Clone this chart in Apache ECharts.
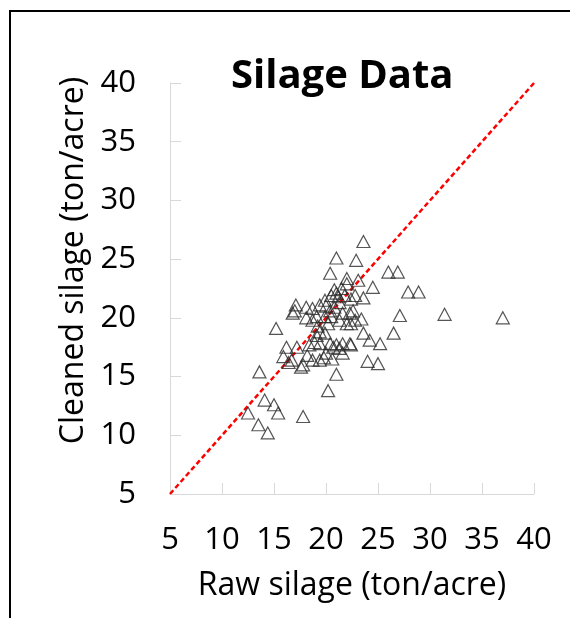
<!DOCTYPE html>
<html>
<head>
<meta charset="utf-8">
<script src="https://cdn.jsdelivr.net/npm/echarts@6/dist/echarts.min.js"></script>
<style>
  html, body { margin: 0; padding: 0; background: #fff; }
  #wrap { position: relative; width: 570px; height: 618px; overflow: hidden; }
  #frame { position: absolute; left: 9px; top: 10px; width: 700px; height: 800px; border: 2px solid #000; box-sizing: border-box; }
  #chart { position: absolute; left: 0; top: 0; width: 570px; height: 618px; }
</style>
</head>
<body>
<div id="wrap">
  <div id="frame"></div>
  <div id="chart"></div>
</div>
<script>
// raw vs cleaned silage yield, ton/acre
const rawSilage = [
  37.0, 31.4, 27.1, 28.9, 27.9, 26.9, 26.0, 24.5, 26.5, 25.2,
  25.0, 24.0, 23.6, 23.6, 22.9, 21.0, 20.4, 21.0, 20.2, 17.8,
  15.2, 13.6, 14.1, 15.0, 15.4, 12.5, 13.5, 14.4,
  17.1, 16.8, 17.0, 18.1, 16.2, 17.2, 15.9, 16.7, 16.4, 17.6, 17.8,
  18.7, 19.4, 19.9, 20.5, 21.2, 21.8, 22.8, 21.5, 22.0, 22.0,
  23.1, 21.0, 20.8, 22.4, 22.6, 22.0, 18.1, 18.7, 19.1, 19.9,
  20.5, 20.2, 20.4, 21.3, 22.3, 22.8, 23.4, 22.4, 19.1, 19.4,
  19.9, 18.9, 18.4, 19.4, 20.4, 21.0, 21.6, 22.3, 20.0, 20.7,
  21.3, 21.6, 22.4, 18.7, 19.4, 18.2, 19.8, 20.6, 19.2, 20.0,
  21.3, 20.8, 21.6, 23.6, 24.2
];
const cleanedSilage = [
  20.0, 20.3, 20.2, 22.2, 22.2, 23.9, 23.9, 22.6, 18.7, 17.8,
  16.1, 16.3, 18.7, 26.5, 24.9, 25.1, 23.8, 15.2, 13.8, 11.6,
  19.1, 15.4, 13.0, 12.6, 11.9, 11.9, 10.9, 10.2,
  21.1, 20.4, 20.6, 20.9, 17.5, 17.5, 16.7, 16.4, 16.2, 15.8, 16.0,
  20.8, 21.1, 21.5, 21.9, 21.8, 21.9, 21.9, 22.5, 22.9, 23.35,
  23.2, 22.1, 22.4, 21.6, 20.6, 19.5, 20.0, 19.8, 20.1, 20.1,
  20.1, 19.5, 20.6, 19.8, 20.4, 19.8, 19.9, 19.5, 18.5, 18.8,
  18.7, 17.9, 17.7, 17.8, 17.8, 17.7, 17.8, 17.8, 17.0, 17.5,
  17.4, 17.0, 17.7, 16.4, 16.4, 16.8, 16.6, 16.5, 19.3, 21.0,
  21.3, 20.9, 20.4, 21.7, 18.1
];
// 1:1 reference line
const refLineX = [5, 40];
const refLineY = [5, 40];
const axisTicks = [5, 10, 15, 20, 25, 30, 35, 40];

const points = rawSilage.map((x, i) => [x, cleanedSilage[i]]);
const refLine = refLineX.map((x, i) => [x, refLineY[i]]);

const FONT = '"Open Sans", sans-serif';
const AXIS_GRAY = '#d9d9d9';

const chart = echarts.init(document.getElementById('chart'), null, { renderer: 'canvas' });

function axis(name, extra) {
  return Object.assign({
    type: 'value',
    min: axisTicks[0],
    max: axisTicks[axisTicks.length - 1],
    interval: 5,
    name,
    nameLocation: 'middle',
    axisLine: { show: true, lineStyle: { color: AXIS_GRAY, width: 1 } },
    axisTick: { show: true, inside: true, length: 11, lineStyle: { color: AXIS_GRAY } },
    splitLine: { show: false },
  }, extra);
}

chart.setOption({
  animation: false,
  backgroundColor: 'transparent',
  title: {
    text: 'Silage Data',
    left: 226,
    top: 52,
    textStyle: { fontFamily: FONT, fontWeight: 'bold', fontSize: 40, color: '#000' },
  },
  grid: { left: 170, right: 36, top: 83, bottom: 124, containLabel: false },
  xAxis: axis('Raw silage (ton/acre)', {
    nameGap: 76,
    nameTextStyle: { fontFamily: FONT, fontSize: 32, color: '#000' },
    axisLabel: { fontFamily: FONT, fontSize: 31, color: '#000', margin: 31 },
  }),
  yAxis: axis('Cleaned silage (ton/acre)', {
    nameGap: 78,
    nameTextStyle: { fontFamily: FONT, fontSize: 32, color: '#000', padding: [0, 0, 0, 56] },
    axisLabel: { fontFamily: FONT, fontSize: 31, color: '#000', margin: 34 },
  }),
  series: [
    {
      type: 'line',
      data: refLine,
      symbol: 'none',
      silent: true,
      lineStyle: { color: '#ff0000', width: 2.5, type: [5, 3] },
      z: 1,
    },
    {
      type: 'scatter',
      data: points,
      symbol: 'triangle',
      symbolSize: [13, 12],
      itemStyle: { color: 'rgba(0,0,0,0)', borderColor: '#2b2b2b', borderWidth: 1.2 },
      z: 2,
    },
  ],
});
</script>
</body>
</html>
